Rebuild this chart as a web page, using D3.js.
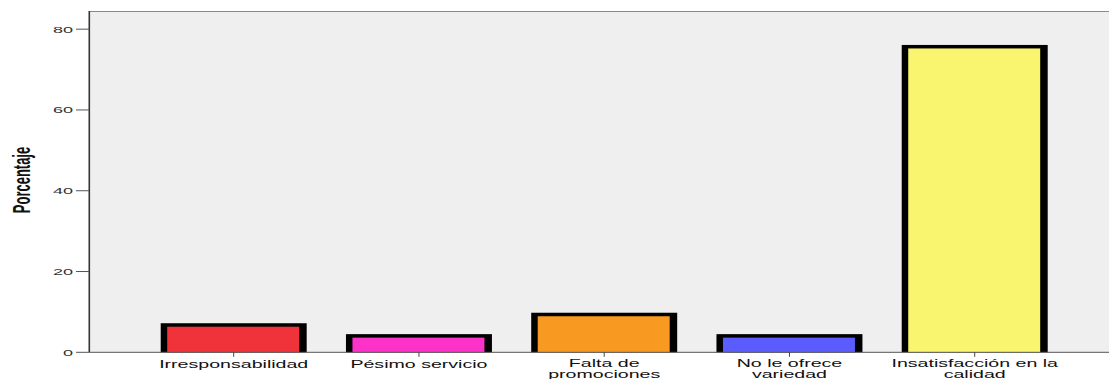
<!DOCTYPE html>
<html>
<head>
<meta charset="utf-8">
<script src="https://cdn.jsdelivr.net/npm/d3@7"></script>
<style>
  html, body { margin: 0; padding: 0; background: #ffffff; }
  svg { display: block; }
  text { font-family: "Liberation Sans", Arial, sans-serif; }
</style>
</head>
<body>
<svg id="chart" width="1109" height="379"></svg>
<script>
// Motivos de insatisfacción (porcentaje de respuestas)
const categories = [
  ["Irresponsabilidad"],
  ["Pésimo servicio"],
  ["Falta de", "promociones"],
  ["No le ofrece", "variedad"],
  ["Insatisfacción en la", "calidad"]
];
const values = [6.7, 4.0, 9.3, 4.0, 75.6];
const colors = ["#f0333b", "#fd33c9", "#f89a22", "#5b5cfe", "#f9f56e"];
const yTicks = [0, 20, 40, 60, 80];
const yTitle = "Porcentaje";

const W = 1109, H = 379;
const frame = { left: 89.3, top: 11, right: 1109, bottom: 352.3 };
const stretchX = 1.8;

const svg = d3.select("#chart");

const keys = categories.map(c => c.join(" "));
const x = d3.scaleBand()
  .domain(keys)
  .range([86.6, 1121.8])
  .paddingInner(0.212)
  .paddingOuter(0.4);

const y = d3.scaleLinear()
  .domain([0, 84.5])
  .range([frame.bottom, frame.top]);

// plot background
svg.append("rect")
  .attr("x", frame.left).attr("y", frame.top)
  .attr("width", frame.right - frame.left)
  .attr("height", frame.bottom - frame.top)
  .attr("fill", "#efefef");

// top border
svg.append("line")
  .attr("x1", frame.left).attr("x2", frame.right)
  .attr("y1", frame.top + 0.5).attr("y2", frame.top + 0.5)
  .attr("stroke", "#8a8a8a").attr("stroke-width", 1.2);

// bars: black outline block with the coloured fill inset
const bars = svg.append("g").selectAll("g")
  .data(values.map((v, i) => ({ key: keys[i], v, c: colors[i] })))
  .join("g");

bars.append("rect")
  .attr("x", d => x(d.key))
  .attr("y", d => y(d.v) - 2)
  .attr("width", x.bandwidth())
  .attr("height", d => frame.bottom - y(d.v) + 2)
  .attr("fill", "#000");

bars.append("rect")
  .attr("x", d => x(d.key) + 6.5)
  .attr("y", d => y(d.v) + 1.5)
  .attr("width", x.bandwidth() - 14)
  .attr("height", d => frame.bottom - y(d.v) - 1.5)
  .attr("fill", d => d.c);

// y axis
const yAxis = svg.append("g");
yAxis.append("line")
  .attr("x1", frame.left).attr("x2", frame.left)
  .attr("y1", frame.top).attr("y2", frame.bottom)
  .attr("stroke", "#333").attr("stroke-width", 1.6);
yTicks.forEach(t => {
  yAxis.append("line")
    .attr("x1", 76).attr("x2", frame.left)
    .attr("y1", y(t)).attr("y2", y(t))
    .attr("stroke", "#555").attr("stroke-width", 1);
  yAxis.append("text")
    .attr("transform", `translate(73,${y(t) + 3.4}) scale(${stretchX + 0.1},1)`)
    .attr("text-anchor", "end")
    .attr("font-size", 9.5)
    .attr("fill", "#333")
    .text(t);
});

// y axis title
svg.append("text")
  .attr("transform", `translate(30,180) rotate(-90) scale(1,${stretchX})`)
  .attr("text-anchor", "middle")
  .attr("font-size", 13)
  .attr("font-weight", "bold")
  .attr("fill", "#111")
  .text(yTitle);

// x axis
const xAxis = svg.append("g");
xAxis.append("line")
  .attr("x1", frame.left).attr("x2", frame.right)
  .attr("y1", frame.bottom).attr("y2", frame.bottom)
  .attr("stroke", "#555").attr("stroke-width", 1);
categories.forEach((lines, i) => {
  const cx = x(keys[i]) + x.bandwidth() / 2;
  xAxis.append("line")
    .attr("x1", cx).attr("x2", cx)
    .attr("y1", frame.bottom).attr("y2", frame.bottom + 4.5)
    .attr("stroke", "#444").attr("stroke-width", 1);
  lines.forEach((ln, j) => {
    xAxis.append("text")
      .attr("transform", `translate(${cx},${(lines.length > 1 ? 366.5 : 368) + j * 11.2}) scale(1.92,1)`)
      .attr("text-anchor", "middle")
      .attr("font-size", 10.2)
      .attr("fill", "#111")
      .text(ln);
  });
});
</script>
</body>
</html>
